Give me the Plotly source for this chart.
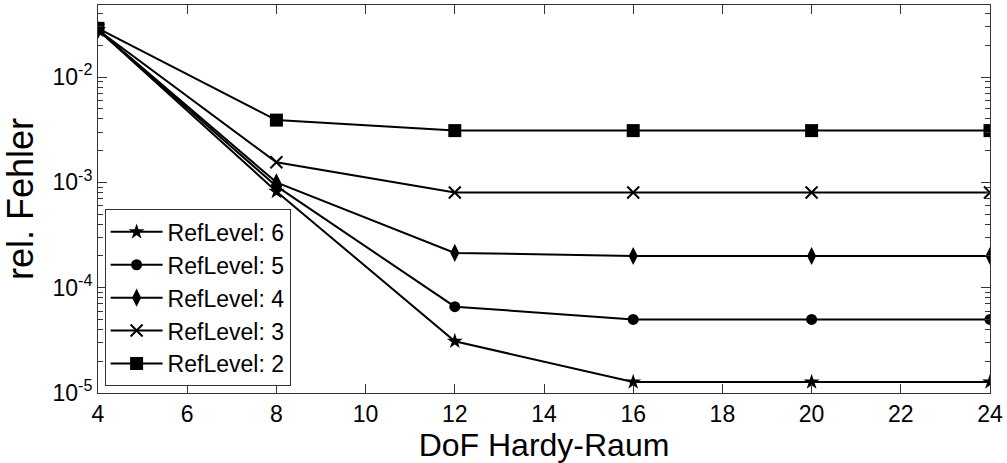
import plotly.graph_objects as go

dof = [4, 8, 12, 16, 20, 24]
ref6 = [2.8e-2, 8.2e-4, 3.1e-5, 1.27e-5, 1.27e-5, 1.27e-5]
ref5 = [2.8e-2, 9.2e-4, 6.6e-5, 5.0e-5, 5.0e-5, 5.0e-5]
ref4 = [2.8e-2, 1.0e-3, 2.14e-4, 2.0e-4, 2.0e-4, 2.0e-4]
ref3 = [2.8e-2, 1.55e-3, 8.0e-4, 8.0e-4, 8.0e-4, 8.0e-4]
ref2 = [2.9e-2, 3.9e-3, 3.1e-3, 3.1e-3, 3.1e-3, 3.1e-3]
names = ["RefLevel: 6", "RefLevel: 5", "RefLevel: 4", "RefLevel: 3", "RefLevel: 2"]
series = [ref6, ref5, ref4, ref3, ref2]
symbols = ["star", "circle", "diamond-tall", "x-thin-open", "square"]
sizes = [12, 11, 13, 12, 13]

x_ticks = [4, 6, 8, 10, 12, 14, 16, 18, 20, 22, 24]
y_ticks = [1e-5, 1e-4, 1e-3, 1e-2]
y_ticktext = ["10<sup>-5</sup>", "10<sup>-4</sup>", "10<sup>-3</sup>", "10<sup>-2</sup>"]
y_minor = [m * 10 ** e for e in range(-5, -1) for m in range(2, 10)]

fig = go.Figure()
for name, ys, sym, sz in zip(names, series, symbols, sizes):
    fig.add_trace(go.Scatter(
        x=dof, y=ys, name=name, mode="lines+markers",
        line=dict(color="black", width=2),
        marker=dict(symbol=sym, size=sz, color="black",
                    line=dict(color="black", width=2 if sym.startswith("x") else 0)),
    ))

FONT = "Liberation Sans, Arial, sans-serif"

fig.update_layout(
    width=1007, height=463,
    margin=dict(l=98, r=15, t=4, b=70),
    paper_bgcolor="white", plot_bgcolor="white",
    font=dict(family=FONT, color="black", size=22),
    xaxis=dict(
        range=[4, 24], tickmode="array", tickvals=x_ticks, ticklen=9,
        showline=True, linecolor="#333", linewidth=1, mirror="ticks",
        ticks="inside", tickcolor="#333", showgrid=False, zeroline=False,
        tickfont=dict(family=FONT, size=23, color="black"),
        title=dict(text="DoF Hardy-Raum", font=dict(family=FONT, size=32, color="black"), standoff=2),
    ),
    yaxis=dict(
        type="log", range=[-5, -1.316], tickmode="array", tickvals=y_ticks, ticktext=y_ticktext, ticklen=9,
        showline=True, linecolor="#333", linewidth=1, mirror="ticks",
        ticks="inside", tickcolor="#333", showgrid=False, zeroline=False,
        tickfont=dict(family=FONT, size=23, color="black"),
        minor=dict(tickmode="array", tickvals=y_minor, ticks="inside", ticklen=5, tickcolor="#333"),
        title=dict(text="rel. Fehler", font=dict(family=FONT, size=36, color="black"), standoff=18),
    ),
    legend=dict(
        x=0.0074, y=0.017, xanchor="left", yanchor="bottom",
        bgcolor="white", bordercolor="#333", borderwidth=1,
        font=dict(family=FONT, size=23, color="black"), tracegroupgap=0,
        itemwidth=52,
    ),
    showlegend=True,
)

fig.write_html("out.html", config={"displayModeBar": False},
               post_script="document.body.style.margin='0';")
